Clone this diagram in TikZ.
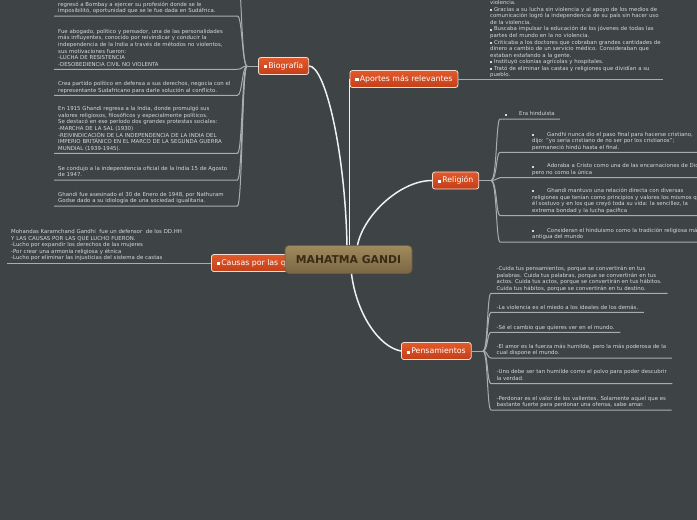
\documentclass[tikz,border=0pt]{standalone}
\usepackage{fontspec}
\setmainfont{DejaVu Sans}
\usepackage{xcolor}
\usepackage{tikz}
\usetikzlibrary{positioning, calc}

\definecolor{canvas}{HTML}{3E4345}
\definecolor{notetext}{HTML}{D6D8D8}
\definecolor{linkcol}{HTML}{F0F0F0}
\definecolor{undercol}{HTML}{A9ADAD}
\definecolor{topictop}{HTML}{E15A2C}
\definecolor{topicbot}{HTML}{C33F18}
\definecolor{topicedge}{HTML}{F4DCD2}
\definecolor{roottop}{HTML}{A08B5E}
\definecolor{rootbot}{HTML}{7A6642}
\definecolor{rootedge}{HTML}{6E5C3B}
\definecolor{roottext}{HTML}{3B2B15}

\newcommand{\sqb}{\rule[0.3pt]{2pt}{2pt}}
\newcommand{\topicsq}{\rule{3.2pt}{3.2pt}\hspace{1.2pt}}
\newcommand{\rind}{\hspace*{27pt}}

\begin{document}
\begin{tikzpicture}[
        x=1pt, y=-1pt,
        root/.style={rectangle, rounded corners=4pt, top color=roottop, bottom color=rootbot, draw=rootedge, line width=0.6pt, minimum width=127pt, minimum height=28pt, text=roottext, font=\fontsize{10.8}{12}\selectfont\bfseries},
        topic/.style={rectangle, rounded corners=2.5pt, top color=topictop, bottom color=topicbot, draw=topicedge, line width=0.8pt, minimum height=17pt, inner xsep=5.5pt, anchor=west, text=white, font=\fontsize{7.8}{9}\selectfont},
        note/.style={anchor=south west, inner ysep=0pt, inner xsep=4pt, align=left, text=notetext, font=\fontsize{5.4}{6.55}\selectfont, execute at end node={\rule[-3pt]{0pt}{0pt}}},
        link/.style={draw=linkcol, line width=1.5pt},
        under/.style={draw=undercol, line width=1pt},
    ]
    \fill[canvas] (0,0) rectangle (697,520);
    \useasboundingbox (0,0) rectangle (697,520);
    \clip (0,0) rectangle (697,520);

    % main topics
    \node[topic] (bio) at (258,66) {\topicsq Biografía};
    \node[topic] (apo) at (349.5,79) {\topicsq Aportes más relevantes};
    \node[topic] (rel) at (432,180.5) {\topicsq Religión};
    \node[topic] (pen) at (401,351) {\topicsq Pensamientos};
    \node[topic] (cau) at (211,263) {\topicsq Causas por las que luchó};
    \node[root] (gandi) at (348.5,259.5) {MAHATMA GANDI};

    % Biografia
    \coordinate (bfork) at (247,66);
    \coordinate (b0) at (239,-30);
    \node[note, text width=175pt] (b1) at (54,16) {regresó a Bombay a ejercer su profesión donde se le\\imposibilitó, oportunidad que se le fue dada en Sudáfrica.};
    \node[note, text width=175pt] (b2) at (54,69.3) {Fue abogado, político y pensador, una de las personalidades\\más influyentes, conocido por reivindicar y conducir la\\independencia de la India a través de métodos no violentos,\\sus motivaciones fueron:\\-LUCHA DE RESISTENCIA\\-DESOBEDIENCIA CIVIL NO VIOLENTA};
    \node[note, text width=175pt] (b3) at (54,95.3) {Crea partido político en defensa a sus derechos, negocia con el\\representante Sudafricano para darle solución al conflicto.};
    \node[note, text width=175pt] (b4) at (54,153.3) {En 1915 Ghandi regresa a la India, donde promulgó sus\\valores religiosos, filosóficos y especialmente políticos.\\Se destacó en ese período dos grandes protestas sociales:\\-MARCHA DE LA SAL (1930)\\-REIVINDICACIÓN DE LA INDEPENDENCIA DE LA INDIA DEL\\IMPERIO BRITÁNICO EN EL MARCO DE LA SEGUNDA GUERRA\\MUNDIAL (1939-1945).};
    \node[note, text width=175pt] (b5) at (54,180) {Se condujo a la independencia oficial de la India 15 de Agosto\\de 1947.};
    \node[note, text width=175pt] (b6) at (54,206) {Ghandi fue asesinado el 30 de Enero de 1948, por Nathuram\\Godse dado a su idiología de una sociedad igualitaria.};

    % Aportes
    \coordinate (aend) at (663,79);
    \node[note, text width=185pt] (atxt) at (486,80) {violencia.\\\sqb\ Gracias a su lucha sin violencia y al apoyo de los medios de\\comunicación logró la independencia de su país sin hacer uso\\de la violencia.\\\sqb\ Buscaba impulsar la educación de los jóvenes de todas las\\partes del mundo en la no violencia.\\\sqb\ Criticaba a los doctores que cobraban grandes cantidades de\\dinero a cambio de un servicio médico. Consideraban que\\estaban estafando a la gente.\\\sqb\ Instituyó colonias agrícolas y hospitales.\\\sqb\ Trató de eliminar las castas y religiones que dividían a su\\pueblo.};

    % Causas
    \node[note, text width=196pt] (ctxt) at (7,263) {Mohandas Karamchand Gandhi \ fue un defensor \ de los DD.HH\\Y LAS CAUSAS POR LAS QUE LUCHO FUERON.\\-Lucho por expandir los derechos de las mujeres\\-Por crear una armonia religiosa y étnica\\-Lucho por eliminar las injusticias del sistema de castas};

    % Religion
    \coordinate (rfork) at (491,180.5);
    \node[note, inner xsep=5pt] (r1) at (500,119) {\sqb\hspace{12pt}Era hinduista};
    \node[note, inner xsep=5pt] (r2) at (500,152.3) {\rind\sqb\hspace{13pt}Gandhi nunca dio el paso final para hacerse cristiano,\\\rind dijo: "yo sería cristiano de no ser por los cristianos";\\\rind permaneció hindú hasta el final.};
    \node[note, inner xsep=5pt] (r3) at (500,177.7) {\rind\sqb\hspace{13pt}Adoraba a Cristo como una de las encarnaciones de Dios\\\rind pero no como la única};
    \node[note, inner xsep=5pt] (r4) at (500,215.5) {\rind\sqb\hspace{13pt}Ghandi mantuvo una relación directa con diversas\\\rind religiones que tenían como principios y valores los mismos que\\\rind él sostuvo y en los que creyó toda su vida: la sencillez, la\\\rind extrema bondad y la lucha pacífica};
    \node[note, inner xsep=5pt] (r5) at (500,242) {\rind\sqb\hspace{13pt}Consideran el hinduismo como la tradición religiosa más\\\rind antigua del mundo};

    % Pensamientos
    \coordinate (pfork) at (483,351);
    \node[note, inner xsep=5.5pt] (p1) at (491,293.3) {-Cuida tus pensamientos, porque se convertirán en tus\\palabras. Cuida tus palabras, porque se convertirán en tus\\actos. Cuida tus actos, porque se convertirán en tus hábitos.\\Cuida tus hábitos, porque se convertirán en tu destino.};
    \node[note, inner xsep=5.5pt] (p2) at (491,312.3) {-La violencia es el miedo a los ideales de los demás.};
    \node[note, inner xsep=5.5pt] (p3) at (491,332.3) {-Sé el cambio que quieres ver en el mundo.};
    \node[note, inner xsep=5.5pt] (p4) at (491,358) {-El amor es la fuerza más humilde, pero la más poderosa de la\\cual dispone el mundo.};
    \node[note, inner xsep=5.5pt] (p5) at (491,383.7) {-Uno debe ser tan humilde como el polvo para poder descubrir\\la verdad.};
    \node[note, inner xsep=5.5pt] (p6) at (491,410) {-Perdonar es el valor de los valientes. Solamente aquel que es\\bastante fuerte para perdonar una ofensa, sabe amar.};

    % links from the centre
    \draw[link] (bio.east) .. controls +(16,0) and +(-2,-95) .. ([xshift=-1.5pt]gandi.north);
    \draw[link] (gandi.north -| apo.west) -- (apo.west);
    \draw[link] ([xshift=9pt]gandi.north) .. controls +(6,-30) and +(-32,0) .. (rel.west);
    \draw[link] ([xshift=3pt]gandi.south) .. controls +(5,40) and +(-22,-4) .. (pen.west);

    % sub branches
    \draw[under] (bio.west) -- (bfork);
    \draw[under] (bfork) .. controls +(-5,0) and +(2,20) .. (b0);
    \foreach \b in {b1,b2,b3,b4,b5,b6}
        \draw[under] (bfork) .. controls +(-5,0) and +(5,0) .. (\b.south east) -- (\b.south west);
    \draw[under] (apo.east) -- (aend);
    \draw[under] (cau.west) -- (cau.west -| ctxt.west);
    \draw[under] (rel.east) -- (rfork);
    \foreach \r in {r1,r2,r3,r4,r5}
        \draw[under] (rfork) .. controls +(6,0) and +(-4,0) .. (\r.south west) -- (\r.south east);
    \draw[under] (pen.east) -- (pfork);
    \foreach \p in {p1,p2,p3,p4,p5,p6}
        \draw[under] (pfork) .. controls +(5,0) and +(-4,0) .. (\p.south west) -- (\p.south east);
\end{tikzpicture}
\end{document}
